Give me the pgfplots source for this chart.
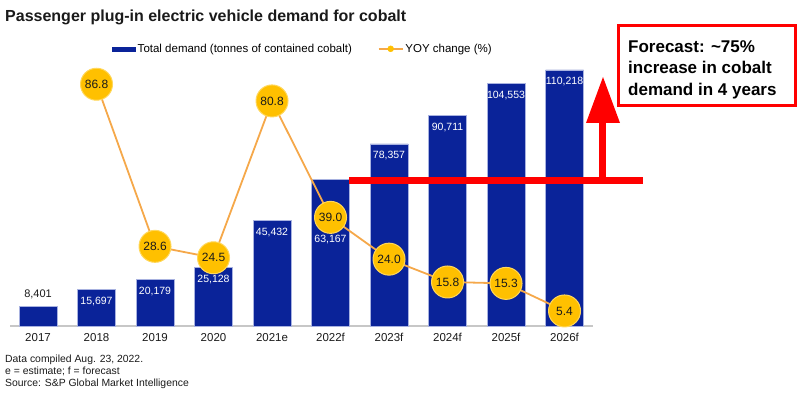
\documentclass[border=0pt]{standalone}
\usepackage{pgfplots}
\pgfplotsset{compat=1.18}
\usepackage{pgfplotstable}
\usepackage{fontspec}
\setmainfont{Liberation Sans}
\definecolor{barblue}{HTML}{0A2399}
\definecolor{baredge}{HTML}{A8B2E0}
\definecolor{gold}{HTML}{FFC000}
\definecolor{goldedge}{HTML}{FFD75A}
\definecolor{lineor}{HTML}{F5A84A}
\definecolor{txt}{HTML}{1A1A1A}
\definecolor{annred}{HTML}{FF0000}

\pgfplotstableread{
x y dy
0 8401 12
}\barsA

\pgfplotstableread{
x y dy
1 15697 -12
2 20179 -12
3 25128 -12
4 45432 -12
5 63167 -60
6 78357 -12
7 90711 -12
8 104553 -12
9 110218 -12
}\barsB

\pgfplotstableread{
x y
1 86.8
2 28.6
3 24.5
4 80.8
5 39.0
6 24.0
7 15.8
8 15.3
9 5.4
}\yoy

\begin{document}
\begin{tikzpicture}
\path[use as bounding box] (0bp,0bp) rectangle (800bp,399bp);
\begin{axis}[at={(10bp,73bp)}, anchor=south west, scale only axis,
  width=583bp, height=266bp,
  xmin=-0.479, xmax=9.487, ymin=0, ymax=114500,
  axis y line=none, axis x line*=bottom,
  x axis line style={draw=black!22, line width=1.2bp, -},
  xtick={0,...,9},
  xticklabels={2017,2018,2019,2020,2021e,2022f,2023f,2024f,2025f,2026f},
  major tick length=0,
  xticklabel style={font=\fontsize{11.5bp}{13bp}\selectfont, text=txt, yshift=-4bp},
  clip=false,
  legend style={at={(axis description cs:0.5026,1.042)}, anchor=center, draw=none, fill=none,
    legend columns=2, font=\fontsize{11.5bp}{13bp}\selectfont, inner sep=0pt,
    /tikz/every even column/.append style={column sep=24bp}},
  legend cell align=left,
]
\addplot[ybar, bar width=38bp, bar shift=0pt, fill=barblue, draw=baredge, line width=0.6bp, forget plot,
  nodes near coords={\pgfmathprintnumber[fixed,precision=0,1000 sep={,},assume math mode=true]{\pgfplotspointmeta}},
  point meta=y,
  visualization depends on={\thisrow{dy}\as\dy},
  nodes near coords style={anchor=center, yshift=\dy bp, text=txt,
    font=\fontsize{11bp}{13bp}\selectfont}]
  table[x=x,y=y]{\barsA};
\addplot[ybar, bar width=38bp, bar shift=0pt, fill=barblue, draw=baredge, line width=0.6bp, forget plot,
  nodes near coords={\pgfmathprintnumber[fixed,precision=0,1000 sep={,},assume math mode=true]{\pgfplotspointmeta}},
  point meta=y,
  visualization depends on={\thisrow{dy}\as\dy},
  nodes near coords style={anchor=center, yshift=\dy bp, text=white,
    font=\fontsize{10.5bp}{12bp}\selectfont}]
  table[x=x,y=y]{\barsB};
\addlegendimage{legend image code/.code={\fill[barblue] (0bp,-2bp) rectangle (23bp,2bp);}}
\addlegendentry{Total demand (tonnes of contained cobalt)}
\addlegendimage{legend image code/.code={\draw[lineor, line width=1.5bp] (0bp,0bp) -- (24bp,0bp); \fill[gold] (12bp,0bp) circle (3bp);}}
\addlegendentry{YOY change (\%)}
\end{axis}
\begin{axis}[at={(10bp,73bp)}, anchor=south west, scale only axis,
  width=583bp, height=266bp,
  xmin=-0.479, xmax=9.487, ymin=0, ymax=95.5,
  hide axis, clip=false]
\addplot[lineor, line width=1.8bp, mark=*, mark size=16bp,
  mark options={fill=gold, draw=goldedge, line width=1bp},
  nodes near coords={\pgfmathprintnumber[fixed,fixed zerofill,precision=1,assume math mode=true]{\pgfplotspointmeta}},
  point meta=y,
  nodes near coords style={anchor=center, text=txt, font=\fontsize{12bp}{14bp}\selectfont}]
  table[x=x,y=y]{\yoy};
\end{axis}
\node[anchor=west, inner sep=0pt, font=\bfseries\fontsize{16bp}{19bp}\selectfont, text=txt] at (5bp,382bp) {Passenger plug-in electric vehicle demand for cobalt};
\node[anchor=north west, inner sep=0pt, align=left, font=\fontsize{10.4bp}{11.8bp}\selectfont, text=txt] at (5bp,44bp)
  {Data compiled Aug. 23, 2022.\\e = estimate; f = forecast\\Source: S\&P Global Market Intelligence};
\draw[annred, line width=7bp] (349bp,218bp) -- (643bp,218bp);
\draw[annred, line width=7bp] (602bp,218bp) -- (602bp,278bp);
\fill[annred] (586bp,276bp) -- (620bp,276bp) -- (603bp,322bp) -- cycle;
\draw[annred, line width=3bp, fill=white] (618bp,293bp) rectangle (795bp,373bp);
\node[anchor=north west, inner sep=0pt, align=left, font=\bfseries\fontsize{17bp}{21.5bp}\selectfont, text=black] at (628bp,359bp)
  {Forecast: \textasciitilde75\%\\increase in cobalt\\demand in 4 years};
\end{tikzpicture}
\end{document}
